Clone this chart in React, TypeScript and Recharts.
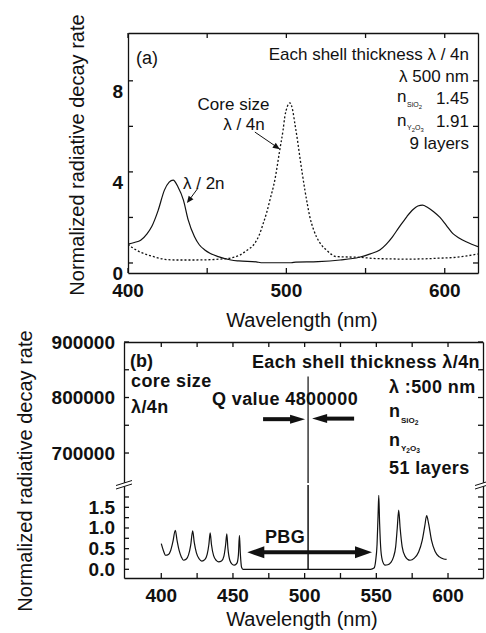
import React from 'react';
import { LineChart, Line, XAxis, YAxis, ReferenceLine } from 'recharts';

const FONT = '"Liberation Sans", Arial, Helvetica, sans-serif';

// ---------- Panel (a) ----------
const solidWavelengths = [400, 404, 408, 412, 415, 419, 423, 426, 428.5, 431.5, 435, 438, 442, 445, 448.5, 452, 457, 465, 470, 481, 484, 503, 506, 520, 534, 546, 553, 559, 563, 567, 571, 576, 580, 583, 586, 589, 593, 597, 601, 605, 609, 613.5, 617, 621];
const solidRates = [0.83, 0.9, 1.0, 1.28, 1.6, 2.3, 3.2, 3.55, 3.64, 3.35, 2.76, 1.89, 1.15, 0.8, 0.57, 0.42, 0.28, 0.13, 0.09, 0.05, 0.01, 0.01, 0.04, 0.06, 0.13, 0.25, 0.4, 0.57, 0.82, 1.15, 1.55, 2.03, 2.35, 2.5, 2.54, 2.45, 2.25, 2.0, 1.65, 1.3, 1.1, 0.93, 0.82, 0.72];
const dottedWavelengths = [400, 404.4, 408, 412.8, 418, 423.3, 430, 440, 450, 458, 465, 470.7, 475, 480, 483, 485.4, 487.5, 489.6, 492.7, 495.9, 497.9, 499, 500.5, 502.2, 504, 505.4, 507, 508.5, 510, 511.7, 513.2, 514.8, 517, 519, 522, 525.3, 528, 531.6, 535, 546, 555, 565, 576, 586, 596, 607, 614, 621];
const dottedRates = [0.83, 0.6, 0.47, 0.35, 0.24, 0.16, 0.13, 0.13, 0.14, 0.17, 0.22, 0.35, 0.55, 0.86, 1.25, 1.74, 2.2, 2.76, 3.64, 4.99, 5.83, 6.42, 6.85, 7.03, 6.7, 6.1, 5.4, 4.66, 3.95, 3.2, 2.6, 2.03, 1.5, 1.15, 0.8, 0.57, 0.4, 0.28, 0.27, 0.25, 0.2, 0.18, 0.17, 0.18, 0.21, 0.25, 0.31, 0.4];
const aXDomain = [400, 621];
const aYDomain = [-0.44, 10.1];
const aXTicks = [400, 450, 500, 550, 600];
const aXLabels = [400, 500, 600];
const aYTicks = [0, 2, 4, 6, 8];
const aYLabels = [0, 4, 8];

// ---------- Panel (b) ----------
const bWavelengths = [400, 401.5, 403, 405, 406.5, 408, 409.8, 411, 412.5, 414, 415.5, 417.5, 419, 420.5, 421.9, 423, 424.5, 426.5, 428.3, 430.5, 432, 433.2, 434.1, 435, 436.5, 438.5, 440, 442, 443.7, 444.9, 445.7, 446.5, 447.8, 449.5, 451, 452.8, 453.8, 454.5, 455.2, 456, 457, 502.3, 502.4, 502.5, 546, 548.4, 549.5, 550.5, 551.2, 551.7, 552.3, 553.2, 554.5, 556.1, 558, 560, 562, 563.5, 564.6, 565.6, 566.6, 568, 570, 573.5, 576.5, 579.5, 582, 583.8, 585.1, 586.5, 588.5, 591, 594, 597, 599];
const bRates = [0.62, 0.45, 0.34, 0.36, 0.45, 0.65, 0.94, 0.7, 0.45, 0.3, 0.22, 0.25, 0.35, 0.58, 0.93, 0.65, 0.4, 0.25, 0.2, 0.24, 0.36, 0.6, 0.88, 0.6, 0.33, 0.21, 0.18, 0.2, 0.32, 0.6, 0.86, 0.5, 0.22, 0.12, 0.1, 0.15, 0.35, 0.82, 0.35, 0.05, 0, 0, 838000, 0, 0, 0.03, 0.2, 0.6, 1.3, 1.79, 1.1, 0.45, 0.18, 0.1, 0.11, 0.16, 0.3, 0.55, 1.0, 1.43, 1.0, 0.55, 0.32, 0.22, 0.27, 0.42, 0.7, 1.05, 1.3, 1.1, 0.7, 0.43, 0.3, 0.25, 0.24];
const bXDomain = [374, 624.4];
const bUpperDomain = [646000, 900000];
const bLowerDomain = [-0.21, 2.04];
const bXTicks = [400, 425, 450, 475, 500, 525, 550, 575, 600];
const bXLabels = [400, 450, 500, 550, 600];
const bUpperTicks = [700000, 750000, 800000, 850000, 900000];
const bUpperLabels = [700000, 800000, 900000];
const bLowerTicks = [0, 0.25, 0.5, 0.75, 1.0, 1.25, 1.5, 1.75];
const bLowerLabels = [0, 0.5, 1.0, 1.5];

const solidData = solidWavelengths.map((x, i) => ({ x, y: solidRates[i] }));
const dottedData = dottedWavelengths.map((x, i) => ({ x, y: dottedRates[i] }));
const bData = bWavelengths.map((x, i) => ({ x, y: bRates[i] }));

// plot rectangles (page pixels)
const A = { l: 128, t: 33, r: 478, b: 273 };
const BU = { l: 124, t: 342, r: 483, b: 483 };
const BL = { l: 124, t: 485, r: 483, b: 578 };

const lin = (d: number[], r0: number, r1: number) => (v: number) => r0 + ((v - d[0]) / (d[1] - d[0])) * (r1 - r0);

const has = (arr: number[], v: number) => arr.some((a) => Math.abs(a - v) < 1e-9);

const yTick = (labels: number[], fmt: (v: number) => string, dy: number, size: number) => (p: any) => {
  const v = p.payload.value;
  if (!has(labels, v)) return <g />;
  return (
    <text x={p.x} y={p.y + dy} textAnchor="end" dominantBaseline="central" fontSize={size} fontWeight={700} fontFamily={FONT} fill="#111">
      {fmt(v)}
    </text>
  );
};
const xTick = (labels: number[], size: number) => (p: any) => {
  const v = p.payload.value;
  if (!has(labels, v)) return <g />;
  return (
    <text x={p.x} y={p.y} textAnchor="middle" dominantBaseline="central" fontSize={size} fontWeight={700} fontFamily={FONT} fill="#111">
      {String(v)}
    </text>
  );
};

const arrowShape = (w: number, headLen: number, headHalf: number, both = false) => (p: any) => {
  const { x1, y1, x2, y2 } = p;
  const dx = x2 - x1;
  const dy = y2 - y1;
  const len = Math.hypot(dx, dy) || 1;
  const ux = dx / len;
  const uy = dy / len;
  const nx = -uy;
  const ny = ux;
  const head = (tx: number, ty: number, dirx: number, diry: number) => {
    const bx = tx - dirx * headLen;
    const by = ty - diry * headLen;
    return `${tx},${ty} ${bx + nx * headHalf},${by + ny * headHalf} ${bx - nx * headHalf},${by - ny * headHalf}`;
  };
  const sx = both ? x1 + ux * headLen * 0.8 : x1;
  const sy = both ? y1 + uy * headLen * 0.8 : y1;
  const ex = x2 - ux * headLen * 0.8;
  const ey = y2 - uy * headLen * 0.8;
  return (
    <g>
      <line x1={sx} y1={sy} x2={ex} y2={ey} stroke="#111" strokeWidth={w} />
      <polygon points={head(x2, y2, ux, uy)} fill="#111" />
      {both && <polygon points={head(x1, y1, -ux, -uy)} fill="#111" />}
    </g>
  );
};

const T = ({ x, y, children, anchor = 'start', size = 17, bold = false, ls = 0, rotate = false }: any) => {
  const tx = anchor === 'end' ? '-100%' : anchor === 'middle' ? '-50%' : '0';
  return (
    <div
      style={{
        position: 'absolute',
        left: x,
        top: y,
        transform: `translate(${tx}, -50%)${rotate ? ' rotate(-90deg)' : ''}`,
        fontSize: size,
        lineHeight: `${size}px`,
        fontWeight: bold ? 700 : 400,
        letterSpacing: ls,
        whiteSpace: 'nowrap',
        color: '#111',
      }}
    >
      {children}
    </div>
  );
};

const TK = 5;
const FS = { stroke: '#111', strokeWidth: 1.3 };

// frame with inward ticks (crisp half-pixel lines)
const Frame = ({ rect, xd, yd, xt, yt, top = true, bottom = true }: any) => {
  const fx = lin(xd, rect.l, rect.r);
  const fy = lin(yd, rect.b, rect.t);
  const h = 0.5;
  return (
    <g>
      {top && <line x1={rect.l + h} y1={rect.t + h} x2={rect.r + h} y2={rect.t + h} {...FS} />}
      {bottom && <line x1={rect.l + h} y1={rect.b + h} x2={rect.r + h} y2={rect.b + h} {...FS} />}
      <line x1={rect.l + h} y1={rect.t + h} x2={rect.l + h} y2={rect.b + h} {...FS} />
      <line x1={rect.r + h} y1={rect.t + h} x2={rect.r + h} y2={rect.b + h} {...FS} />
      {xt.map((v: number) => (
        <g key={`x${v}`}>
          {top && <line x1={fx(v)} y1={rect.t} x2={fx(v)} y2={rect.t + TK} {...FS} />}
          {bottom && <line x1={fx(v)} y1={rect.b} x2={fx(v)} y2={rect.b - TK} {...FS} />}
        </g>
      ))}
      {yt.map((v: number) => (
        <g key={`y${v}`}>
          <line x1={rect.l} y1={fy(v)} x2={rect.l + TK} y2={fy(v)} {...FS} />
          <line x1={rect.r} y1={fy(v)} x2={rect.r - TK} y2={fy(v)} {...FS} />
        </g>
      ))}
    </g>
  );
};

export default function App() {
  return (
    <div style={{ position: 'absolute', left: 0, top: 0, width: 486, height: 633, background: '#fff', fontFamily: FONT, overflow: 'hidden' }}>
      {/* Panel (a) */}
      <div style={{ position: 'absolute', left: 0, top: 0 }}>
        <LineChart width={486} height={310} margin={{ top: A.t, right: 486 - A.r, bottom: 310 - A.b - 30, left: A.l - 50 }}>
          <XAxis dataKey="x" type="number" domain={aXDomain} allowDataOverflow ticks={aXTicks} interval={0} height={30}
            axisLine={false} tickLine={false} tickSize={-5} tickMargin={22} tick={xTick(aXLabels, 19)} />
          <YAxis type="number" domain={aYDomain} allowDataOverflow ticks={aYTicks} interval={0} width={50}
            axisLine={false} tickLine={false} tickSize={-5} tickMargin={10} tick={yTick(aYLabels, (v) => String(v), 11, 19)} />
          <Line data={dottedData} dataKey="y" type="monotone" stroke="#111" strokeWidth={1.3} strokeDasharray="2 2" dot={false} isAnimationActive={false} />
          <Line data={solidData} dataKey="y" type="monotone" stroke="#111" strokeWidth={1.2} dot={false} isAnimationActive={false} />
          <ReferenceLine segment={[{ x: 480.1, y: 5.75 }, { x: 495.9, y: 5.0 }]} shape={arrowShape(1, 7, 3)} />
          <ReferenceLine segment={[{ x: 444.2, y: 3.29 }, { x: 437.2, y: 2.63 }]} shape={arrowShape(1, 7, 3)} />
        </LineChart>
      </div>

      {/* Panel (b) upper segment */}
      <div style={{ position: 'absolute', left: 0, top: 300 }}>
        <LineChart width={486} height={190} margin={{ top: BU.t - 300, right: 486 - BU.r, bottom: 490 - BU.b, left: BU.l - 60 }}>
          <XAxis dataKey="x" type="number" domain={bXDomain} allowDataOverflow ticks={bXTicks} hide />
          <YAxis type="number" domain={bUpperDomain} allowDataOverflow ticks={bUpperTicks} interval={0} width={60}
            axisLine={false} tickLine={false} tickSize={-5} tickMargin={14} tick={yTick(bUpperLabels, (v) => String(v), 0, 19)} />
          <Line data={bData} dataKey="y" type="linear" stroke="#222" strokeWidth={1.3} dot={false} isAnimationActive={false} />
          <ReferenceLine segment={[{ x: 471, y: 761000 }, { x: 500.3, y: 761000 }]} shape={arrowShape(4, 15, 4.5)} />
          <ReferenceLine segment={[{ x: 534.5, y: 762000 }, { x: 505.2, y: 762000 }]} shape={arrowShape(4, 15, 4.5)} />
        </LineChart>
      </div>

      {/* Panel (b) lower segment */}
      <div style={{ position: 'absolute', left: 0, top: 480 }}>
        <LineChart width={486} height={153} margin={{ top: BL.t - 480, right: 486 - BL.r, bottom: 633 - BL.b - 30, left: BL.l - 60 }}>
          <XAxis dataKey="x" type="number" domain={bXDomain} allowDataOverflow ticks={bXTicks} interval={0} height={30}
            axisLine={false} tickLine={false} tickSize={-5} tickMargin={22} tick={xTick(bXLabels, 19)} />
          <YAxis type="number" domain={bLowerDomain} allowDataOverflow ticks={bLowerTicks} interval={0} width={60}
            axisLine={false} tickLine={false} tickSize={-5} tickMargin={14} tick={yTick(bLowerLabels, (v) => v.toFixed(1), 0, 19)} />
          <Line data={bData} dataKey="y" type="monotone" stroke="#111" strokeWidth={1.2} dot={false} isAnimationActive={false} />
          <ReferenceLine segment={[{ x: 460, y: 0.41 }, { x: 547, y: 0.41 }]} shape={arrowShape(4, 17, 6, true)} />
        </LineChart>
      </div>

      {/* frames, inward ticks and axis break marks */}
      <svg width={486} height={633} style={{ position: 'absolute', left: 0, top: 0, pointerEvents: 'none' }}>
        <Frame rect={A} xd={aXDomain} yd={aYDomain} xt={aXTicks} yt={aYTicks} />
        <Frame rect={BU} xd={bXDomain} yd={bUpperDomain} xt={bXTicks} yt={bUpperTicks} bottom={false} />
        <Frame rect={BL} xd={bXDomain} yd={bLowerDomain} xt={bXTicks} yt={bLowerTicks} top={false} />
        <line x1={BU.l + 0.5} y1={BU.b} x2={BL.l + 0.5} y2={BL.t} {...FS} />
        <line x1={BU.r + 0.5} y1={BU.b} x2={BL.r + 0.5} y2={BL.t} {...FS} />
        <polygon points="116,485.5 132,480.5 132,484 116,489" fill="#fff" />
        <line x1={116} y1={485.5} x2={132} y2={480.5} stroke="#111" strokeWidth={1} />
        <line x1={116} y1={489} x2={132} y2={484} stroke="#111" strokeWidth={1} />
        <polygon points="475,485.5 491,480.5 491,484 475,489" fill="#fff" />
        <line x1={475} y1={485.5} x2={491} y2={480.5} stroke="#111" strokeWidth={1} />
        <line x1={475} y1={489} x2={491} y2={484} stroke="#111" strokeWidth={1} />
      </svg>

      {/* Panel (a) text */}
      <T x={77} y={155} anchor="middle" size={20} rotate>Normalized radiative decay rate</T>
      <T x={302} y={320} anchor="middle" size={20}>Wavelength (nm)</T>
      <T x={136} y={58} size={18}>(a)</T>
      <T x={469} y={53.5} anchor="end" size={17}>Each shell thickness λ / 4n</T>
      <T x={469} y={76} anchor="end" size={17}>λ 500 nm</T>
      <T x={397} y={96} size={17}>n</T>
      <T x={407} y={106} size={7}>SiO<sub>2</sub></T>
      <T x={469} y={97.5} anchor="end" size={17}>1.45</T>
      <T x={397} y={120} size={17}>n</T>
      <T x={407} y={129} size={7}>Y<sub>2</sub>O<sub>3</sub></T>
      <T x={469} y={121} anchor="end" size={17}>1.91</T>
      <T x={469} y={143} anchor="end" size={17}>9 layers</T>
      <T x={233.5} y={104} anchor="middle" size={17}>Core size</T>
      <T x={244} y={124} anchor="middle" size={17}>λ / 4n</T>
      <T x={183} y={183} size={17}>λ / 2n</T>

      {/* Panel (b) text */}
      <T x={25} y={471} anchor="middle" size={20} rotate>Normalized radiative decay rate</T>
      <T x={302} y={619} anchor="middle" size={20}>Wavelength (nm)</T>
      <T x={130} y={361} size={18} bold>(b)</T>
      <T x={480} y={361.5} anchor="end" size={18} bold ls={0.4}>Each shell thickness λ/4n</T>
      <T x={131} y={381} size={18} bold ls={0.4}>core size</T>
      <T x={131} y={407} size={18} bold ls={0.4}>λ/4n</T>
      <T x={212} y={398.5} size={18} bold ls={0.4}>Q value 4800000</T>
      <T x={389} y={387} size={18} bold ls={0.4}>λ :500 nm</T>
      <T x={389} y={411} size={18} bold>n</T>
      <T x={401} y={421.5} size={8} bold>SiO<sub>2</sub></T>
      <T x={389} y={440} size={18} bold>n</T>
      <T x={401} y={450} size={8} bold>Y<sub>2</sub>O<sub>3</sub></T>
      <T x={389} y={467.5} size={18} bold ls={0.4}>51 layers</T>
      <T x={285} y={537} anchor="middle" size={18} bold ls={0.4}>PBG</T>
    </div>
  );
}
